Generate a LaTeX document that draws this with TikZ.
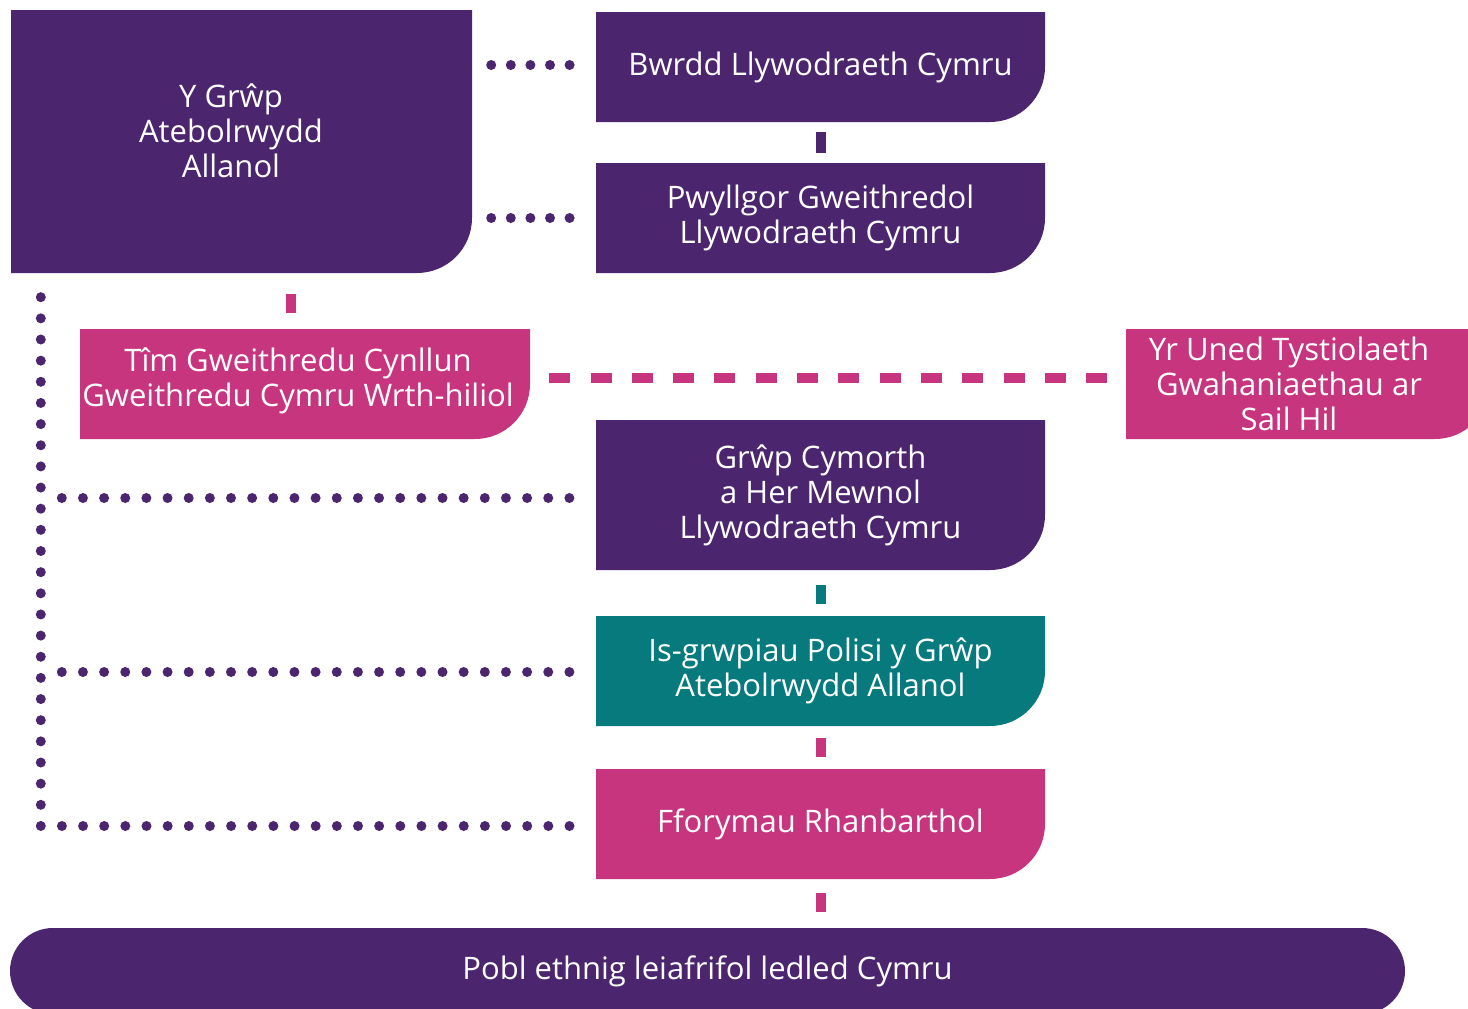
\documentclass[tikz,border=0pt]{standalone}
\usepackage{fontspec}
\setmainfont{Open Sans}
\usepackage{tikz}

\definecolor{grpurple}{HTML}{4B266E}
\definecolor{grpink}{HTML}{C8357F}
\definecolor{grteal}{HTML}{077A7E}

\tikzset{
  panel/.style={rectangle, inner sep=0pt, text=white, align=center,
    font=\fontsize{31}{35}\selectfont,
    path picture={\fill[#1] (path picture bounding box.north west)
      -- (path picture bounding box.north east)
      -- ([yshift=55pt]path picture bounding box.south east)
      arc[start angle=0, end angle=-90, radius=55pt]
      -- (path picture bounding box.south west) -- cycle;}},
  words/.style={text=white, align=center, inner sep=0pt,
    font=\fontsize{31}{35}\selectfont},
  dotline/.style={draw=grpurple, line width=10pt, line cap=round,
    dash pattern=on 0pt off #1},
  dotline/.default=21.15pt,
  stub/.style={draw=#1, line width=10pt},
}

\begin{document}
\begin{tikzpicture}[x=1pt, y=-1pt]
        \clip (0,0) rectangle (1468,1009);

        % left block
        \node[panel=grpurple, minimum width=461pt, minimum height=263pt] (grwp) at (241.5,141.5) {};
        \node[words] (grwp-text) at (231,131) {Y Grŵp\\Atebolrwydd\\Allanol};

        % centre column
        \node[panel=grpurple, minimum width=449pt, minimum height=110pt] (bwrdd) at (820.5,67) {Bwrdd Llywodraeth Cymru};
        \node[panel=grpurple, minimum width=449pt, minimum height=110pt] (pwyllgor) at (820.5,218) {Pwyllgor Gweithredol\\Llywodraeth Cymru};
        \node[panel=grpink, minimum width=450pt, minimum height=110pt] (tim) at (305,384) {};
        \node[words] (tim-text) at (298,381) {Tîm Gweithredu Cynllun\\Gweithredu Cymru Wrth-hiliol};
        \node[panel=grpink, minimum width=364pt, minimum height=110pt] (uned) at (1308,384) {};
        \node[words] (uned-text) at (1289,384) {Yr Uned Tystiolaeth\\Gwahaniaethau ar\\Sail Hil};
        \node[panel=grpurple, minimum width=449pt, minimum height=150pt] (cymorth) at (820.5,495) {Grŵp Cymorth\\a Her Mewnol\\Llywodraeth Cymru};
        \node[panel=grteal, minimum width=449pt, minimum height=110pt] (isgrwp) at (820.5,671) {Is-grwpiau Polisi y Grŵp\\Atebolrwydd Allanol};
        \node[panel=grpink, minimum width=449pt, minimum height=110pt] (fforymau) at (820.5,824) {Fforymau Rhanbarthol};

        % bottom bar
        \node[fill=grpurple, rounded corners=43pt, minimum width=1395pt, minimum height=86pt,
              text=white, font=\fontsize{31}{35}\selectfont] (pobl) at (707.5,971) {Pobl ethnig leiafrifol ledled Cymru};

        % dotted links
        \draw[dotline=19.6pt, shorten <=19pt, shorten >=26pt] ([yshift=2pt]bwrdd.west -| grwp.east) -- ([yshift=2pt]bwrdd.west);
        \draw[dotline=19.6pt, shorten <=19pt, shorten >=26pt] (pwyllgor.west -| grwp.east) -- (pwyllgor.west);
        \coordinate (corner) at ([xshift=30pt,yshift=-2pt]grwp.south west |- fforymau.west);
        \draw[dotline] ([xshift=30pt,yshift=-24pt]grwp.south west) -- (corner) -- ([xshift=-26pt,yshift=-2pt]fforymau.west);
        \draw[dotline, shorten >=26pt] ([xshift=21pt,yshift=-3pt]corner |- cymorth.west) -- ([yshift=-3pt]cymorth.west);
        \draw[dotline, shorten >=26pt] ([xshift=21pt,yshift=-1pt]corner |- isgrwp.west) -- ([yshift=-1pt]isgrwp.west);

        % dashed link
        \draw[stub=grpink, dash pattern=on 21pt off 20.3pt, shorten <=19pt, shorten >=19pt]
            ([yshift=6pt]tim.east) -- ([yshift=6pt]tim.east -| uned.west);

        % short bars
        \draw[stub=grpurple, shorten <=10pt, shorten >=10pt] (bwrdd.south) -- (pwyllgor.north);
        \draw[stub=grpink, shorten <=21pt, shorten >=16pt] ([xshift=-14pt]tim.north |- grwp.south) -- ([xshift=-14pt]tim.north);
        \draw[stub=grteal, shorten <=15pt, shorten >=12pt] (cymorth.south) -- (isgrwp.north);
        \draw[stub=grpink, shorten <=12pt, shorten >=12pt] (isgrwp.south) -- (fforymau.north);
        \draw[stub=grpink, shorten <=14pt, shorten >=16pt] (fforymau.south) -- (fforymau.south |- pobl.north);
    \end{tikzpicture}
\end{document}
